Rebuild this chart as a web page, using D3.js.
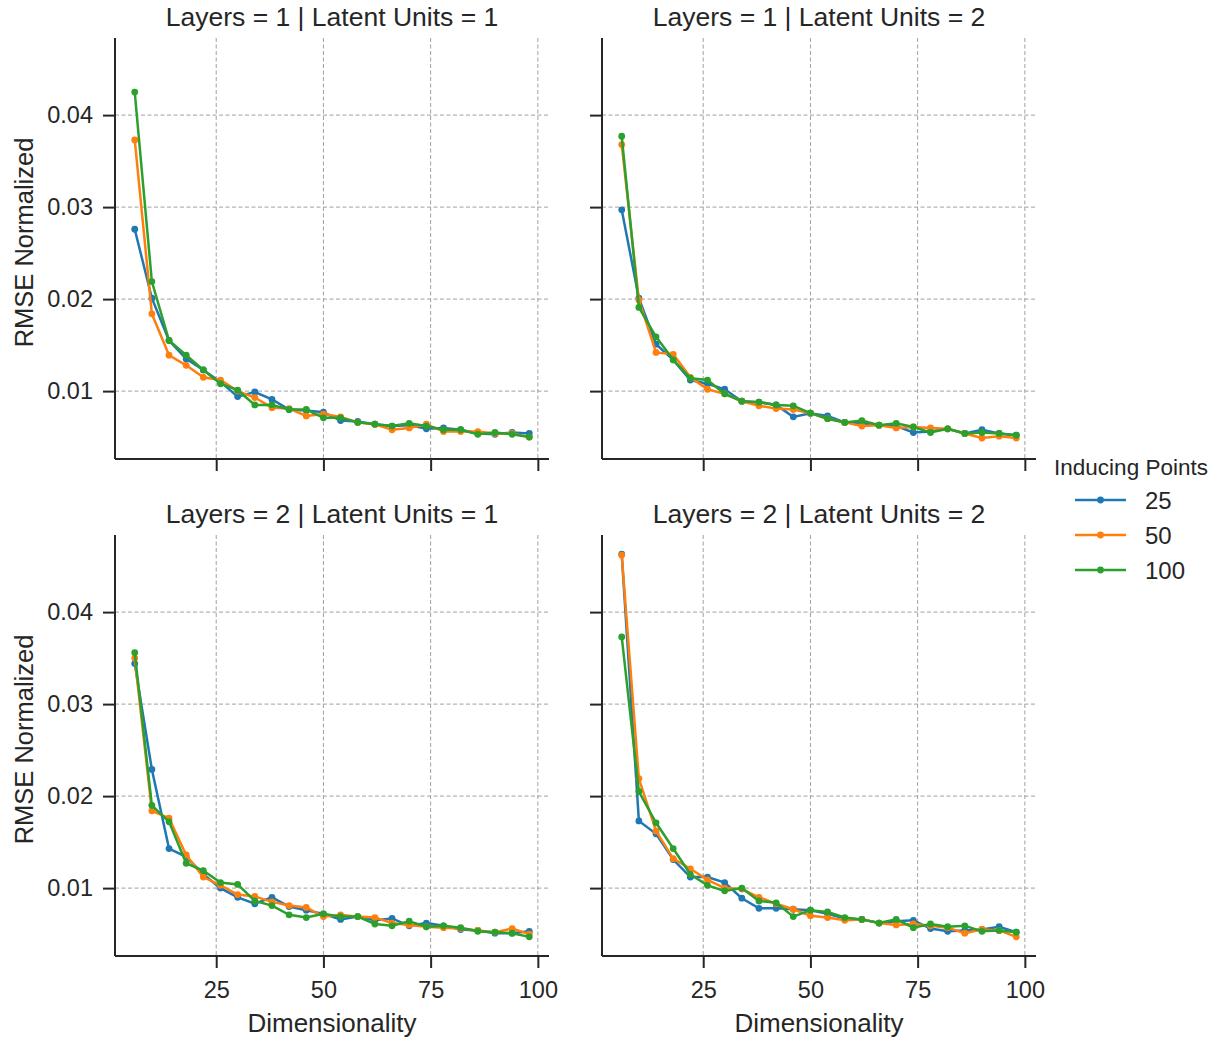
<!DOCTYPE html>
<html lang="en">
<head>
    <meta charset="UTF-8">
    <script src="https://cdnjs.cloudflare.com/ajax/libs/d3/7.8.5/d3.min.js"></script>
    <title>RMSE facets</title>
    <style>
        body { margin: 0; background: #fff; }
        svg text { font-family: "Liberation Sans", Arial, sans-serif; fill: #262626; }
    </style>
</head>
<body>
    <div id="container"></div>
    <script>
        /*------------------- data --------------------*/
        const dims = [6, 10, 14, 18, 22, 26, 30, 34, 38, 42, 46, 50, 54, 58, 62, 66, 70, 74, 78, 82, 86, 90, 94, 98]
        const inducing = ["25", "50", "100"]
        const panelTitles = ["Layers = 1 | Latent Units = 1", "Layers = 1 | Latent Units = 2",
                             "Layers = 2 | Latent Units = 1", "Layers = 2 | Latent Units = 2"]
        const xTicks = [25, 50, 75, 100]
        const yTicks = [0.01, 0.02, 0.03, 0.04]

        // Layers = 1 | Latent Units = 1
        const l1u1_25 = [0.0276, 0.0201, 0.0155, 0.0135, 0.0123, 0.0110, 0.0094, 0.0099, 0.0091, 0.0080, 0.0079, 0.0077, 0.0068, 0.0067, 0.0064, 0.0062, 0.0063, 0.0059, 0.0060, 0.0058, 0.0054, 0.0053, 0.0055, 0.0054]
        const l1u1_50 = [0.0373, 0.0184, 0.0139, 0.0128, 0.0115, 0.0112, 0.0100, 0.0093, 0.0082, 0.0081, 0.0073, 0.0075, 0.0072, 0.0066, 0.0064, 0.0058, 0.0060, 0.0064, 0.0056, 0.0056, 0.0056, 0.0054, 0.0054, 0.0050]
        const l1u1_100 = [0.0425, 0.0219, 0.0155, 0.0139, 0.0123, 0.0108, 0.0101, 0.0085, 0.0085, 0.0080, 0.0080, 0.0071, 0.0071, 0.0066, 0.0064, 0.0062, 0.0065, 0.0062, 0.0058, 0.0058, 0.0053, 0.0055, 0.0053, 0.0050]
        // Layers = 1 | Latent Units = 2
        const l1u2_25 = [0.0297, 0.0201, 0.0151, 0.0134, 0.0112, 0.0108, 0.0102, 0.0089, 0.0088, 0.0085, 0.0072, 0.0076, 0.0073, 0.0066, 0.0065, 0.0063, 0.0062, 0.0055, 0.0056, 0.0059, 0.0054, 0.0058, 0.0054, 0.0052]
        const l1u2_50 = [0.0368, 0.0199, 0.0142, 0.0140, 0.0115, 0.0102, 0.0097, 0.0089, 0.0084, 0.0081, 0.0080, 0.0076, 0.0070, 0.0066, 0.0062, 0.0063, 0.0060, 0.0061, 0.0060, 0.0059, 0.0054, 0.0049, 0.0051, 0.0049]
        const l1u2_100 = [0.0377, 0.0191, 0.0159, 0.0134, 0.0114, 0.0112, 0.0097, 0.0089, 0.0088, 0.0085, 0.0084, 0.0076, 0.0070, 0.0066, 0.0068, 0.0063, 0.0065, 0.0061, 0.0055, 0.0059, 0.0054, 0.0055, 0.0054, 0.0052]
        // Layers = 2 | Latent Units = 1
        const l2u1_25 = [0.0344, 0.0229, 0.0143, 0.0134, 0.0115, 0.0100, 0.0090, 0.0083, 0.0090, 0.0080, 0.0076, 0.0072, 0.0066, 0.0069, 0.0065, 0.0067, 0.0059, 0.0062, 0.0059, 0.0055, 0.0054, 0.0051, 0.0051, 0.0053]
        const l2u1_50 = [0.0350, 0.0184, 0.0176, 0.0136, 0.0112, 0.0103, 0.0093, 0.0091, 0.0085, 0.0081, 0.0079, 0.0069, 0.0071, 0.0069, 0.0068, 0.0062, 0.0060, 0.0058, 0.0057, 0.0056, 0.0054, 0.0052, 0.0056, 0.0050]
        const l2u1_100 = [0.0356, 0.0190, 0.0172, 0.0127, 0.0119, 0.0106, 0.0104, 0.0086, 0.0081, 0.0071, 0.0068, 0.0072, 0.0069, 0.0069, 0.0061, 0.0059, 0.0064, 0.0058, 0.0059, 0.0057, 0.0053, 0.0052, 0.0051, 0.0047]
        // Layers = 2 | Latent Units = 2
        const l2u2_25 = [0.0463, 0.0173, 0.0159, 0.0131, 0.0112, 0.0112, 0.0106, 0.0089, 0.0078, 0.0078, 0.0077, 0.0076, 0.0072, 0.0067, 0.0066, 0.0062, 0.0064, 0.0065, 0.0056, 0.0053, 0.0054, 0.0055, 0.0058, 0.0052]
        const l2u2_50 = [0.0462, 0.0219, 0.0162, 0.0132, 0.0121, 0.0109, 0.0100, 0.0099, 0.0090, 0.0083, 0.0077, 0.0070, 0.0068, 0.0065, 0.0066, 0.0062, 0.0060, 0.0061, 0.0059, 0.0057, 0.0051, 0.0055, 0.0054, 0.0047]
        const l2u2_100 = [0.0373, 0.0205, 0.0171, 0.0143, 0.0115, 0.0103, 0.0097, 0.0100, 0.0086, 0.0084, 0.0069, 0.0076, 0.0074, 0.0068, 0.0066, 0.0062, 0.0066, 0.0057, 0.0061, 0.0058, 0.0059, 0.0053, 0.0054, 0.0052]

        const panels = [
            [l1u1_25, l1u1_50, l1u1_100],
            [l1u2_25, l1u2_50, l1u2_100],
            [l2u1_25, l2u1_50, l2u1_100],
            [l2u2_25, l2u2_50, l2u2_100]
        ]

        /*------------------- layout --------------------*/
        const W = 1215, H = 1038
        const colX = [115, 602], rowY = [38, 535]
        const pw = 434, ph = 421
        const colors = ["#1f77b4", "#ff7f0e", "#2ca02c"]
        const ink = "#262626"

        // shared scales, matplotlib style 5% padding
        const xPad = (d3.max(dims) - d3.min(dims)) * 0.05
        const x = d3.scaleLinear().domain([d3.min(dims) - xPad, d3.max(dims) + xPad]).range([0, pw])
        const allVals = panels.flat(2)
        const yPad = (d3.max(allVals) - d3.min(allVals)) * 0.05
        const y = d3.scaleLinear().domain([d3.min(allVals) - yPad, d3.max(allVals) + yPad]).range([ph, 0])

        const svg = d3.select("#container").append("svg")
            .attr("width", W).attr("height", H)
            .attr("viewBox", `0 0 ${W} ${H}`)

        const line = d3.line().x((d, i) => x(dims[i])).y(d => y(d))

        panels.forEach((series, p) => {
            const col = p % 2, row = Math.floor(p / 2)
            const g = svg.append("g").attr("transform", `translate(${colX[col]},${rowY[row]})`)

            // grid
            g.append("g").selectAll("line").data(xTicks).join("line")
                .attr("x1", d => x(d)).attr("x2", d => x(d)).attr("y1", 0).attr("y2", ph)
                .attr("stroke", "#a0a0a0").attr("stroke-width", 1).attr("stroke-dasharray", "4,2.5")
            g.append("g").selectAll("line").data(yTicks).join("line")
                .attr("x1", 0).attr("x2", pw).attr("y1", d => y(d)).attr("y2", d => y(d))
                .attr("stroke", "#a0a0a0").attr("stroke-width", 1).attr("stroke-dasharray", "4,2.5")

            // series
            series.forEach((vals, s) => {
                g.append("path").datum(vals)
                    .attr("d", line).attr("fill", "none")
                    .attr("stroke", colors[s]).attr("stroke-width", 2.5)
                g.append("g").selectAll("circle").data(vals).join("circle")
                    .attr("cx", (d, i) => x(dims[i])).attr("cy", d => y(d)).attr("r", 3.4)
                    .attr("fill", colors[s])
            })

            // axes
            const xAxis = d3.axisBottom(x).tickValues(xTicks).tickSize(12).tickPadding(13)
                .tickFormat(row === 1 ? d3.format("d") : "")
            const yAxis = d3.axisLeft(y).tickValues(yTicks).tickSize(12).tickPadding(10)
                .tickFormat(col === 0 ? d3.format(".2f") : "")
            const gx = g.append("g").attr("transform", `translate(0,${ph})`).call(xAxis)
            const gy = g.append("g").call(yAxis)
            ;[gx, gy].forEach(a => {
                a.select(".domain").attr("stroke", ink).attr("stroke-width", 2)
                    .attr("d", a === gx ? `M0,0H${pw}` : `M0,0V${ph}`)
                a.selectAll(".tick line").attr("stroke", ink).attr("stroke-width", 2)
                a.selectAll(".tick text").attr("font-size", 23.5).attr("fill", ink)
                    .style("font-family", "'Liberation Sans', Arial, sans-serif")
            })

            // title
            g.append("text").attr("x", pw / 2).attr("y", -12)
                .attr("text-anchor", "middle").attr("font-size", 26.5)
                .text(panelTitles[p])

            if (row === 1) {
                g.append("text").attr("x", pw / 2).attr("y", ph + 76)
                    .attr("text-anchor", "middle").attr("font-size", 26)
                    .text("Dimensionality")
            }
            if (col === 0) {
                g.append("text").attr("transform", `translate(-82,${ph / 2 - 6}) rotate(-90)`)
                    .attr("text-anchor", "middle").attr("font-size", 25.5)
                    .text("RMSE Normalized")
            }
        })

        /*------------------- legend --------------------*/
        const leg = svg.append("g").attr("transform", "translate(1055,0)")
        leg.append("text").attr("x", 76).attr("y", 475).attr("text-anchor", "middle")
            .attr("font-size", 22.5).text("Inducing Points")
        inducing.forEach((lab, i) => {
            const ly = 500 + i * 35
            leg.append("line").attr("x1", 20).attr("x2", 71).attr("y1", ly).attr("y2", ly)
                .attr("stroke", colors[i]).attr("stroke-width", 2.5)
            leg.append("circle").attr("cx", 45.5).attr("cy", ly).attr("r", 3.4).attr("fill", colors[i])
            leg.append("text").attr("x", 90).attr("y", ly + 8.5).attr("font-size", 24).text(lab)
        })
    </script>
</body>
</html>
